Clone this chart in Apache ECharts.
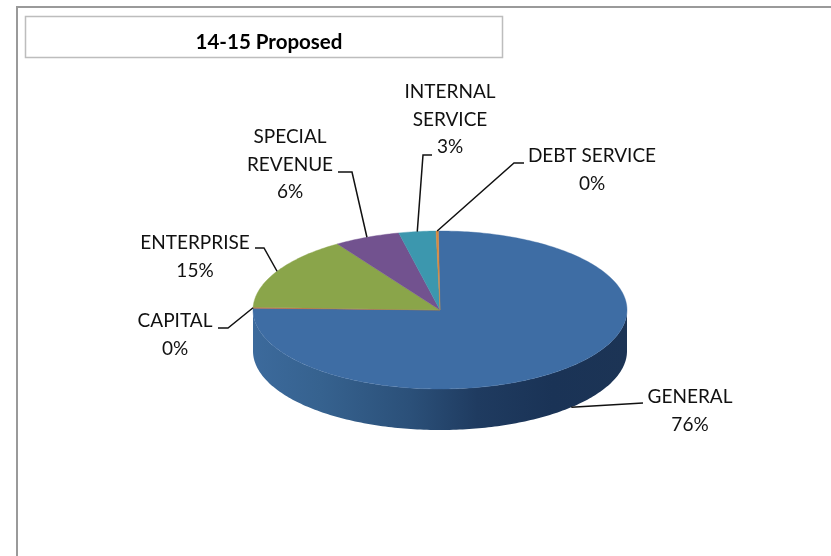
<!DOCTYPE html>
<html><head><meta charset="utf-8">
<style>html,body{margin:0;padding:0;background:#fff}#c{width:831px;height:556px}</style>
<script src="https://cdn.jsdelivr.net/npm/echarts@6/dist/echarts.min.js"></script>
</head><body><div id="c"></div>
<script>
var categories = ['GENERAL','CAPITAL','ENTERPRISE','SPECIAL\nREVENUE','INTERNAL\nSERVICE','DEBT SERVICE'];
var values = [75.5,0.2,15.2,5.7,3.2,0.2];
var percentLabels = ['76%','0%','15%','6%','3%','0%'];
var topColors = ['#3e6da4','#c8663a','#8aa54a','#72528f','#3c97ae','#d8893c'];

// layout, kept apart from the data
var CX=440, CY=310, RX=187, RY=79, DEPTH=41, START=-0.5, FONT='Lato, Carlito, sans-serif', FS=19, LH=27.5;
// [label centre x, first line centre y, elbow x, elbow y, leader end x]
var labelLayout = [
  [690,397,643,403,643],
  [175,321,228,328,218],
  [195,243,264,248,255],
  [290,137,352,172,338],
  [450,92,423,155,432],
  [592,156,514,163,524]
];
var total = values.reduce(function(a,b){return a+b;},0);
function pt(deg,dy){var r=deg*Math.PI/180;return [CX+RX*Math.sin(r),CY-RY*Math.cos(r)+(dy||0)];}

function renderItem(params,api){
  var i=params.dataIndex, before=0;
  for(var k=0;k<i;k++)before+=values[k];
  var a0=START+before/total*360, a1=a0+api.value(0)/total*360, children=[];
  // front wall: the part of the slice between 90 and 270 degrees
  var w0=Math.max(a0,90), w1=Math.min(a1,270);
  if(w1>w0){
    var wall=[],d;
    for(d=w0;d<=w1;d+=1)wall.push(pt(d,0));
    wall.push(pt(w1,0));
    wall.push(pt(w1,DEPTH));
    for(d=w1;d>=w0;d-=1)wall.push(pt(d,DEPTH));
    wall.push(pt(w0,DEPTH));
    children.push({type:'polygon',shape:{points:wall},style:{fill:{type:'linear',x:CX-RX,y:0,x2:CX+RX,y2:0,global:true,colorStops:[
      {offset:0,color:'#3c6a9c'},{offset:0.18,color:'#36628f'},{offset:0.42,color:'#2b5079'},{offset:0.6,color:'#1f3b60'},{offset:0.8,color:'#1a3356'},{offset:1,color:'#1c3455'}]}}});
  }
  var top=[[CX,CY]];
  var steps=Math.max(2,Math.ceil(a1-a0));
  for(var s=0;s<=steps;s++)top.push(pt(a0+(a1-a0)*s/steps,0));
  children.push({type:'polygon',shape:{points:top},style:{fill:api.visual('color'),stroke:api.visual('color'),lineWidth:0.4}});
  // leader, starting at the rim point of the slice's middle angle
  var mid=(a0+a1)/2, L=labelLayout[i];
  var front=mid>90&&mid<270;
  children.push({type:'polyline',z2:5,shape:{points:[pt(mid,front?DEPTH:0),[L[2],L[3]],[L[4],L[3]]]},style:{fill:null,stroke:'#111',lineWidth:1.5}});
  // label
  var lines=categories[i].split('\n').concat([percentLabels[i]]);
  lines.forEach(function(t,n){
    children.push({type:'text',z2:6,style:{text:t,x:L[0],y:L[1]+n*LH,align:'center',verticalAlign:'middle',fill:'#111',font:FS+'px '+FONT}});
  });
  return {type:'group',children:children};
}

var chart=echarts.init(document.getElementById('c'),null,{renderer:'canvas'});
chart.setOption({
  animation:false,
  backgroundColor:'#ffffff',
  title:{text:'14-15 Proposed',left:264,top:37,textAlign:'center',textVerticalAlign:'middle',
    textStyle:{fontFamily:FONT,fontWeight:'bold',fontSize:20.5,color:'#000'}},
  graphic:[
    {type:'rect',shape:{x:16,y:6,width:815,height:2},style:{fill:'#9a9a9a'},z:-1},
    {type:'rect',shape:{x:16,y:6,width:2,height:550},style:{fill:'#9a9a9a'},z:-1},
    {type:'rect',shape:{x:25.5,y:16.5,width:477,height:41},style:{fill:'#fff',stroke:'#bdbdbd',lineWidth:1.5},z:-1}
  ],
  series:[{
    type:'custom',coordinateSystem:'none',clip:false,silent:true,
    renderItem:renderItem,
    data:values.map(function(v,i){return {name:categories[i],value:[v],itemStyle:{color:topColors[i]}};})
  }]
});
</script></body></html>
